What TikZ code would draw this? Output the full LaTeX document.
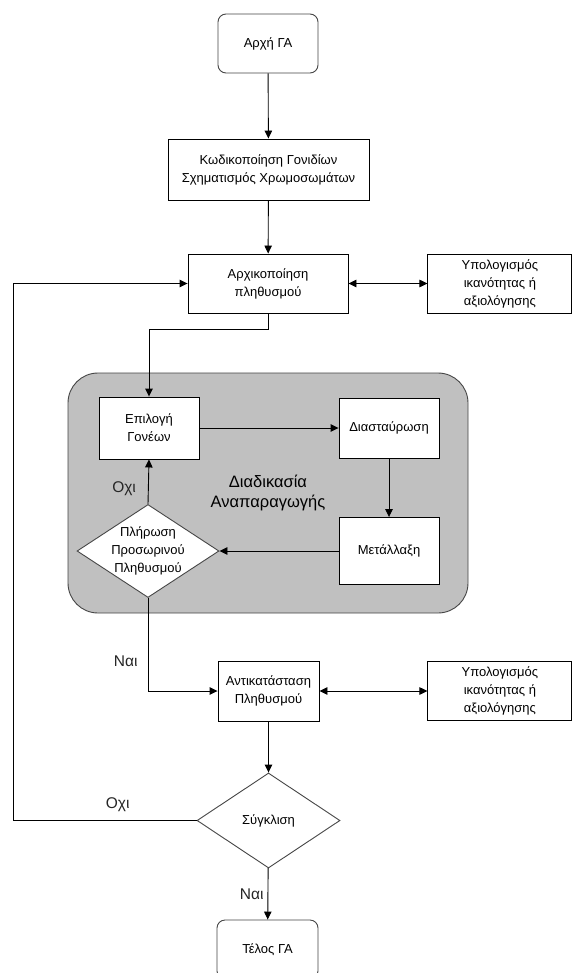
\documentclass[tikz,border=0pt]{standalone}
\usepackage{fontspec}
\setmainfont{Liberation Sans}
\usetikzlibrary{positioning,shapes.geometric,arrows.meta}

\definecolor{procgray}{RGB}{192,192,192}
\definecolor{edgegray}{RGB}{70,70,70}

\tikzset{
  box/.style={draw, line width=0.9pt, fill=white, align=center, inner sep=0pt,
    font=\fontsize{13}{18}\selectfont},
  term/.style={box, draw=edgegray, rounded corners=8pt},
  cond/.style={diamond, draw=edgegray, line width=0.9pt, fill=white, inner sep=0pt},
  flow/.style={-{Triangle[length=8pt,width=7.5pt]}, line width=0.9pt},
  both/.style={{Triangle[length=8pt,width=7.5pt]}-{Triangle[length=8pt,width=7.5pt]}, line width=0.9pt},
  lbl/.style={font=\fontsize{15.5}{18}\selectfont, text=black!85, inner sep=0pt}
}

\begin{document}
\begin{tikzpicture}[x=1pt, y=-1pt]
  \path[fill=white, use as bounding box] (0,0) rectangle (577,973);
  % main column, top to bottom
  \node[term, minimum width=100pt, minimum height=59pt] (start) at (268,43.5) {Αρχή ΓΑ};
  \node[box, minimum width=201pt, minimum height=61pt] (code) at (268.5,169.5)
    {Κωδικοποίηση Γονιδίων\\Σχηματισμός Χρωμοσωμάτων};
  \node[box, minimum width=160pt, minimum height=59pt] (init) at (268,283.5)
    {Αρχικοποίηση\\πληθυσμού};
  \node[box, minimum width=144pt, minimum height=59pt, right=79pt of init] (fit1)
    {Υπολογισμός\\ικανότητας ή\\αξιολόγησης};
  % grey block holding the reproduction loop
  \node[draw=edgegray, line width=0.9pt, fill=procgray, rounded corners=30pt,
    minimum width=400pt, minimum height=240pt, align=center,
    font=\fontsize{16.5}{20}\selectfont] (repro) at (268,493)
    {Διαδικασία\\Αναπαραγωγής};
  \node[box, minimum width=100pt, minimum height=62pt] (sel) at (149,428) {Επιλογή\\Γονέων};
  \node[box, minimum width=100pt, minimum height=60pt] (cross) at (389,428) {Διασταύρωση};
  \node[box, minimum width=100pt, minimum height=67pt] (mut) at (389,551) {Μετάλλαξη};
  \node[cond, minimum width=142pt, minimum height=93pt,
    label={[align=center, font=\fontsize{13}{18}\selectfont]center:Πλήρωση\\Προσωρινού\\Πληθυσμού}]
    (fill) at (148,551) {};
  %% after the loop
  \node[box, minimum width=101pt, minimum height=60pt] (repl) at (268.5,691)
    {Αντικατάσταση\\Πληθυσμού};
  \node[box, minimum width=144pt, minimum height=59pt, right=108pt of repl] (fit2)
    {Υπολογισμός\\ικανότητας ή\\αξιολόγησης};
  \node[cond, minimum width=143pt, minimum height=95pt,
    label={[font=\fontsize{13}{18}\selectfont]center:Σύγκλιση}] (conv) at (268.5,820.5) {};
  \node[term, minimum width=101pt, minimum height=59pt] (end) at (267.5,949.5) {Τέλος ΓΑ};
  \coordinate (back) at (13,820.5);

  \draw[flow] (start) -- (code);
  \draw[flow] (code) -- (init);
  \draw[both] (init) -- (fit1);
  \draw[flow] (init.south) -- ++(0,16) -| (sel.north);
  \draw[flow] (sel) -- (cross);
  \draw[flow] (cross) -- (mut);
  \draw[flow] (mut) -- (fill);
  \draw[flow] (fill.north) -- (sel.south) node[lbl, pos=0.35, left=12pt] {Οχι};
  \draw[flow] (fill.south) |- (repl.west) node[lbl, pos=0.34, left=10pt] {Ναι};
  \draw[both] (repl) -- (fit2);
  \draw[flow] (repl) -- (conv);
  %back to the initial population when not converged
  \draw[flow] (conv.west) -- (back) node[lbl, pos=0.43, above=8pt] {Οχι} |- (init.west);
  \draw[flow] (conv) -- (end) node[lbl, midway, left=4pt] {Ναι};
\end{tikzpicture}
\end{document}
